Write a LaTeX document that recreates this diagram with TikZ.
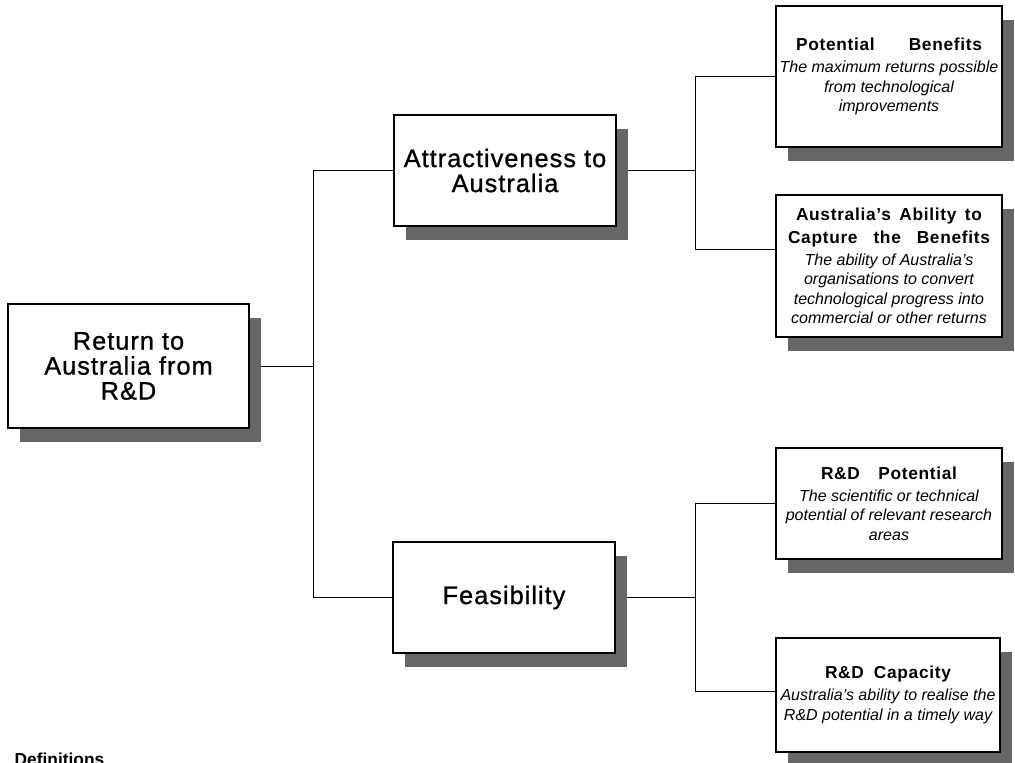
\documentclass[tikz,border=0pt]{standalone}
\usepackage{fontspec}
\setmainfont{Liberation Sans}
\usetikzlibrary{shadows,backgrounds}

\newcommand\ttlfont{\fontsize{19}{18.75}\selectfont\addfontfeature{LetterSpace=4,FakeBold=1}}
\newcommand\hdrfont{\fontsize{13}{13.8}\selectfont\upshape\bfseries\addfontfeature{LetterSpace=4}}
\newcommand\dscfont{\fontsize{12}{14.6}\selectfont\itshape}
\newcommand\hdr[2]{\makebox[#1][s]{\hdrfont #2}}

\tikzset{
	box/.style={draw, fill=white, line width=0.9pt, align=center, inner sep=0pt,
		drop shadow={shadow xshift=9pt, shadow yshift=-10.5pt, fill=black!60, opacity=1}},
	bigbox/.style={box, font=\ttlfont, minimum width=166.5pt, minimum height=83.25pt},
	smallbox/.style={box, font=\dscfont, minimum width=169.5pt},
	link/.style={line width=0.9pt}
}

\begin{document}
\begin{tikzpicture}[x=0.75pt,y=-0.75pt]
	\useasboundingbox (0,0) rectangle (1015,763);
	\node[bigbox, minimum width=180.75pt, minimum height=93pt] (ret) at (128.5,366) {Return to\\Australia from\\R\&D};
	\node[bigbox] (att) at (505,170.5) {Attractiveness to\\Australia};
	\node[bigbox] (fea) at (504,597.5) {Feasibility};
	\node[smallbox, minimum height=105.75pt] (pb) at (889,76.5) {\hdr{139.5pt}{Potential Benefits}\\[2pt] The maximum returns possible\\ from technological\\ improvements};
	\node[smallbox, minimum height=106.5pt] (ab) at (889,266) {\hdr{139.5pt}{Australia's Ability to}\\[2.4pt] \hdr{151.5pt}{Capture the Benefits}\\[2pt] The ability of Australia's\\ organisations to convert\\ technological progress into\\ commercial or other returns};
	\node[smallbox, minimum height=83.25pt] (rp) at (889,503.5) {\hdr{102pt}{R\&D Potential}\\[2pt] The scientific or technical\\ potential of relevant research\\ areas};
	\node[smallbox, minimum width=168pt, minimum height=85.5pt] (rc) at (888,695) {\hdr{94.5pt}{R\&D Capacity}\\[2pt] Australia's ability to realise the\\ R\&D potential in a timely way};
	\node[anchor=base west, font=\fontsize{13}{13}\selectfont\bfseries] (defs) at (10,765) {Definitions};
	\begin{scope}[on background layer, link]
		\coordinate (jl) at (313,0);
		\coordinate (jr) at (695,0);
		\coordinate (abin) at ([yshift=12.75pt]ab.west);
		\coordinate (rcin) at ([yshift=3pt]rc.west);
		\draw (ret.east) -- (ret.east -| jl);
		\draw (att.west) -| (jl |- fea.west) -- (fea.west);
		\draw (att.east) -- (att.east -| jr);
		\draw (pb.west) -| (jr |- abin) -- (abin);
		\draw (fea.east) -- (fea.east -| jr);
		\draw (rp.west) -| (jr |- rcin) -- (rcin);
	\end{scope}
\end{tikzpicture}
\end{document}
